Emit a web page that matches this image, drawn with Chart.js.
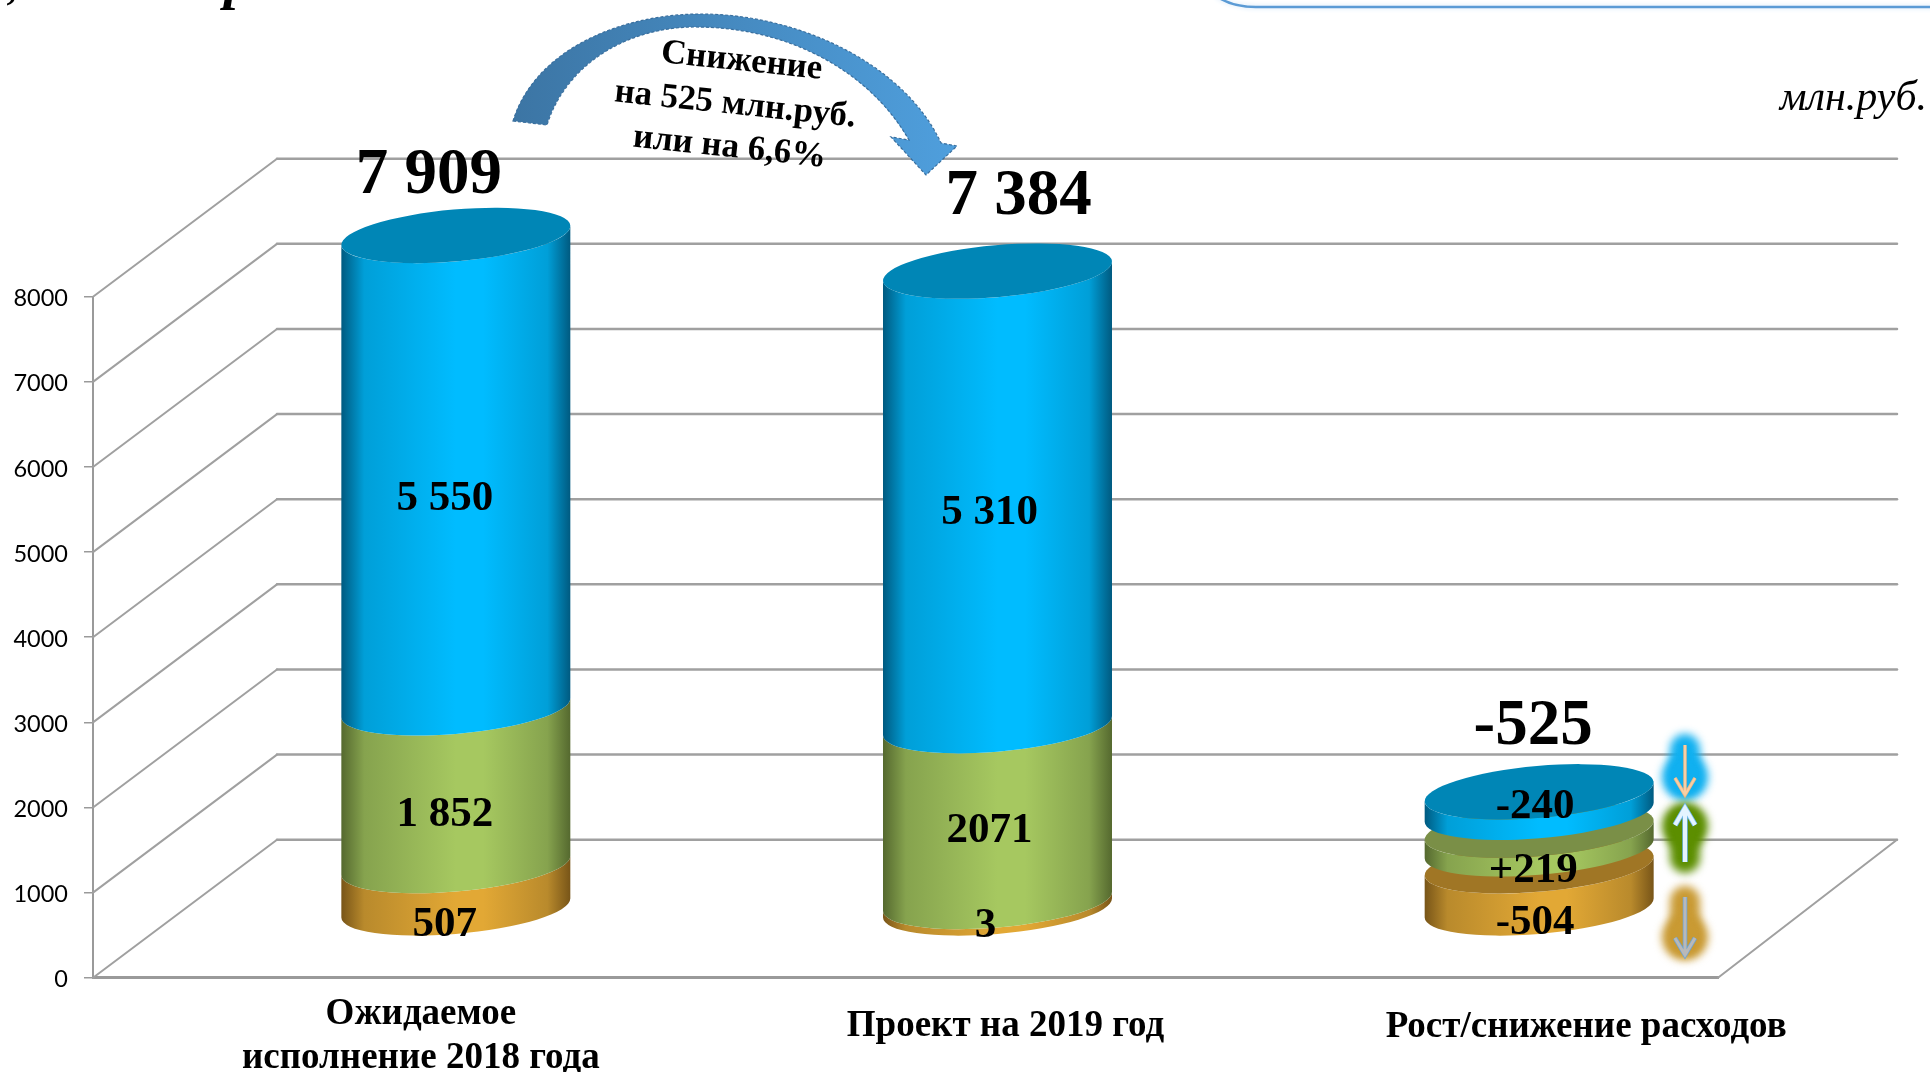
<!DOCTYPE html>
<html><head><meta charset="utf-8">
<style>html,body{margin:0;padding:0;background:#fff;overflow:hidden}canvas{display:block}</style>
<script src="https://cdn.jsdelivr.net/npm/chart.js@4/dist/chart.umd.min.js"></script>
</head><body><canvas id="c" width="1930" height="1072"></canvas>
<script>
const CATEGORIES = [['Ожидаемое','исполнение 2018 года'],'Проект на 2019 год','Рост/снижение расходов'];
const Y_TICKS = [0,1000,2000,3000,4000,5000,6000,7000,8000];
// heights as they are drawn in the picture
const ORANGE_VALUES = [507, 85, 504];
const GAP_LOW_VALUES = [0, 0, 200];
const GREEN_VALUES = [1852, 2065, 219];
const GAP_HIGH_VALUES = [0, 0, 210];
const BLUE_VALUES = [5550, 5340, 240];
// numbers as they are printed in the picture
const ORANGE_LABELS = ['507','3','-504'];
const GREEN_LABELS = ['1 852','2071','+219'];
const BLUE_LABELS = ['5 550','5 310','-240'];
const TOTAL_LABELS = ['7 909','7 384','-525'];

const SERIF = '"Liberation Serif"';
const DEPTH_X = 184, DEPTH_Y = -138, WALL_RIGHT = 1897;
const CAP_HALF_H = 27.7, CAP_SKEW = 9.5;
const COLORS = {
  orange:{edge:'#785518',mid:'#e2a835',side:'#b98a2c',cap:'#a07625'},
  green:{edge:'#55692f',mid:'#a6c860',side:'#86a34e',cap:'#7a8f47'},
  blue:{edge:'#005a80',mid:'#00bcff',side:'#009fd8',cap:'#0086b6'}
};
const SEGMENTS = [
  {ds:0,c:COLORS.orange,labels:ORANGE_LABELS,caps:[false,false,true],nudge:[[-11,38],[-12,21],[-4,36]]},
  {ds:2,c:COLORS.green,labels:GREEN_LABELS,caps:[false,false,true],nudge:[[-11,28],[-8,17],[-6,31]]},
  {ds:4,c:COLORS.blue,labels:BLUE_LABELS,caps:[true,true,true],nudge:[[-11,27],[-8,14],[-4,5]]}
];
const TOTAL_NUDGE = [[-27,-59],[21,-74],[-6,-65]];
const XLABEL_NUDGE = [[57,[1014,1058]],[100,[1026]],[139,[1027]]];

function ellipseParams(halfW){
  const sxx=halfW*halfW, syy=CAP_HALF_H*CAP_HALF_H, sxy=-CAP_SKEW*halfW;
  const phi=0.5*Math.atan2(2*sxy,sxx-syy);
  const r=Math.sqrt(((sxx-syy)/2)**2+sxy*sxy);
  const A=Math.sqrt((sxx+syy)/2+r), B=Math.sqrt((sxx+syy)/2-r);
  const t0=Math.atan2(-B*Math.sin(phi),A*Math.cos(phi));
  return {A,B,phi,t0};
}
function drawCylinder(ctx,bar,c,cap){
  const cx=bar.x+DEPTH_X/2, yT=bar.y+DEPTH_Y/2, yB=bar.base+DEPTH_Y/2, hw=bar.width/2;
  if(Math.abs(yB-yT)<0.01) return;
  const e=ellipseParams(hw);
  const g=ctx.createLinearGradient(cx-hw,0,cx+hw,0);
  g.addColorStop(0,c.edge);g.addColorStop(.1,c.side);g.addColorStop(.5,c.mid);g.addColorStop(.62,c.mid);g.addColorStop(.9,c.side);g.addColorStop(1,c.edge);
  ctx.beginPath();
  ctx.ellipse(cx,yB,e.A,e.B,e.phi,e.t0,e.t0+Math.PI);
  ctx.ellipse(cx,yT,e.A,e.B,e.phi,e.t0+Math.PI,e.t0,true);
  ctx.closePath();ctx.fillStyle=g;ctx.fill();
  if(cap){ctx.beginPath();ctx.ellipse(cx,yT,e.A,e.B,e.phi,0,Math.PI*2);ctx.fillStyle=c.cap;ctx.fill();}
}
function drawWalls(chart){
  const {ctx,chartArea:a,scales:{y}}=chart;
  ctx.save();ctx.strokeStyle='#a0a0a0';ctx.lineCap='round';
  Y_TICKS.forEach(v=>{
    const py=y.getPixelForValue(v);
    ctx.lineWidth=2;ctx.beginPath();ctx.moveTo(a.left,py);ctx.lineTo(a.left+DEPTH_X,py+DEPTH_Y);ctx.stroke();
    ctx.lineWidth=2.5;ctx.beginPath();ctx.moveTo(a.left+DEPTH_X,py+DEPTH_Y);ctx.lineTo(WALL_RIGHT,py+DEPTH_Y);ctx.stroke();
  });
  const p0=y.getPixelForValue(0);
  ctx.lineWidth=2;ctx.beginPath();ctx.moveTo(a.right,p0);ctx.lineTo(WALL_RIGHT,p0+DEPTH_Y);ctx.stroke();
  ctx.restore();
}
function text(ctx,str,x,y,font,align){ctx.font=font;ctx.textAlign=align||'center';ctx.textBaseline='middle';ctx.fillStyle='#000';ctx.fillText(str,x,y);}
function drawSideArrow(ctx,x,y0,y1,glow,fill,stroke,w){
  const dir=y1>y0?1:-1, head=y1;
  ctx.save();ctx.filter='blur(4px)';ctx.fillStyle=glow;ctx.strokeStyle=glow;ctx.lineCap='round';
  ctx.lineWidth=30;ctx.beginPath();ctx.moveTo(x,y0+dir*4);ctx.lineTo(x,y1-dir*14);ctx.stroke();
  ctx.beginPath();ctx.arc(x,y1-dir*18,23,0,Math.PI*2);ctx.fill();
  ctx.restore();
  ctx.save();ctx.strokeStyle=stroke;ctx.lineWidth=w+1.5;ctx.lineCap='butt';
  const path=()=>{ctx.beginPath();ctx.moveTo(x,y0);ctx.lineTo(x,head-dir*2);ctx.moveTo(x-10,head-dir*17);ctx.lineTo(x,head);ctx.lineTo(x+10,head-dir*17);};
  path();ctx.stroke();ctx.strokeStyle=fill;ctx.lineWidth=w;path();ctx.stroke();ctx.restore();
}
function drawDecor(ctx){
  // page fragments cut by the top edge
  ctx.save();ctx.textAlign='left';ctx.textBaseline='alphabetic';ctx.fillStyle='#000';
  ctx.font='italic bold 44px '+SERIF;ctx.fillText(',',8,-1);
  ctx.font='italic bold 56px '+SERIF;ctx.fillText('р',224,-2);ctx.restore();
  ctx.save();ctx.strokeStyle='#5b9bd5';ctx.lineWidth=2.5;ctx.shadowColor='#cfe4f7';ctx.shadowBlur=5;
  ctx.beginPath();ctx.moveTo(1216,-4);ctx.quadraticCurveTo(1232,7,1256,7);ctx.lineTo(1935,7);ctx.stroke();ctx.restore();
  ctx.save();ctx.font='italic 42px '+SERIF;ctx.textAlign='right';ctx.textBaseline='alphabetic';ctx.fillStyle='#000';ctx.fillText('млн.руб.',1927,110);ctx.restore();
  // curved arrow
  const g=ctx.createLinearGradient(513,0,957,0);g.addColorStop(0,'#3c75a4');g.addColorStop(1,'#4f9fdd');
  ctx.save();ctx.beginPath();
  ctx.moveTo(513,121);ctx.bezierCurveTo(535,50,620,14,701,14);ctx.bezierCurveTo(800,14,905,65,941,143);
  ctx.lineTo(957,146);ctx.lineTo(926,175);ctx.lineTo(891,137);ctx.lineTo(909,140);
  ctx.bezierCurveTo(870,72,790,27,695,27);ctx.bezierCurveTo(630,27,567,62,547,125);ctx.closePath();
  ctx.fillStyle=g;ctx.fill();ctx.setLineDash([3,2]);ctx.strokeStyle='#3a6f9e';ctx.lineWidth=1.2;ctx.stroke();ctx.restore();
  ctx.save();ctx.translate(735,106);ctx.rotate(6*Math.PI/180);
  const f='bold 35px '+SERIF;
  text(ctx,'Снижение',2,-45,f);text(ctx,'на 525 млн.руб.',0,-1,f);text(ctx,'или на 6,6%',-1,42,f);ctx.restore();
  drawSideArrow(ctx,1685,745,795,'#10b0f0','#f8cfa4','#e9b688',2);
  drawSideArrow(ctx,1685,862,808,'#5c8e00','#e4f4ff','#6fb7ee',4);
  drawSideArrow(ctx,1685,897,955,'#c99a33','#b9b9b9','#6ba3d6',3);
}
const cylinderPlugin={
  id:'cylinders',
  beforeDatasetsDraw(chart){
    const ctx=chart.ctx;
    drawWalls(chart);
    SEGMENTS.forEach(s=>{
      const meta=chart.getDatasetMeta(s.ds);
      meta.data.forEach((bar,i)=>drawCylinder(ctx,bar,s.c,s.caps[i]));
    });
    return false;
  },
  afterDraw(chart){
    const ctx=chart.ctx;
    SEGMENTS.forEach(s=>{
      const meta=chart.getDatasetMeta(s.ds);
      meta.data.forEach((bar,i)=>{
        const n=s.nudge[i];
        text(ctx,s.labels[i],bar.x+DEPTH_X/2+n[0],(bar.y+bar.base)/2+DEPTH_Y/2+n[1],'bold 43px '+SERIF);
      });
    });
    chart.getDatasetMeta(4).data.forEach((bar,i)=>{
      const n=TOTAL_NUDGE[i];
      text(ctx,TOTAL_LABELS[i],bar.x+DEPTH_X/2+n[0],bar.y+DEPTH_Y/2+n[1],'bold 65px '+SERIF);
    });
    const x=chart.scales.x;
    CATEGORIES.forEach((c,i)=>{
      const lines=Array.isArray(c)?c:[c], n=XLABEL_NUDGE[i];
      lines.forEach((l,j)=>text(ctx,l,x.getPixelForValue(i)+n[0],n[1][j],'bold 37px '+SERIF));
    });
    drawDecor(ctx);
  }
};
const ds=(label,data)=>({label,data,backgroundColor:'transparent',borderWidth:0,stack:'s',categoryPercentage:1,barPercentage:229/541.7});
new Chart(document.getElementById('c'),{
  type:'bar',
  data:{labels:CATEGORIES,datasets:[
    ds('Ряд 1',ORANGE_VALUES),ds('',GAP_LOW_VALUES),ds('Ряд 2',GREEN_VALUES),ds('',GAP_HIGH_VALUES),ds('Ряд 3',BLUE_VALUES)
  ]},
  plugins:[cylinderPlugin],
  options:{
    responsive:false,animation:false,
    layout:{padding:{left:0,right:212,top:296.7,bottom:94.3}},
    plugins:{legend:{display:false},tooltip:{enabled:false},title:{display:false}},
    scales:{
      x:{stacked:true,grid:{display:false,drawTicks:false},border:{display:true,color:'#9a9a9a',width:3},ticks:{display:false}},
      y:{stacked:true,min:0,max:8000,
        afterFit(s){s.width=93;},
        afterBuildTicks(s){s.ticks=Y_TICKS.map(v=>({value:v}));},
        grid:{drawOnChartArea:false,drawTicks:true,tickLength:9,color:'#9a9a9a',lineWidth:1.5},
        border:{display:true,color:'#9a9a9a',width:2},
        ticks:{color:'#000',padding:16,labelOffset:2,font:{family:'Lato',size:23.5},callback:v=>String(v)}
      }
    }
  }
});
</script></body></html>
